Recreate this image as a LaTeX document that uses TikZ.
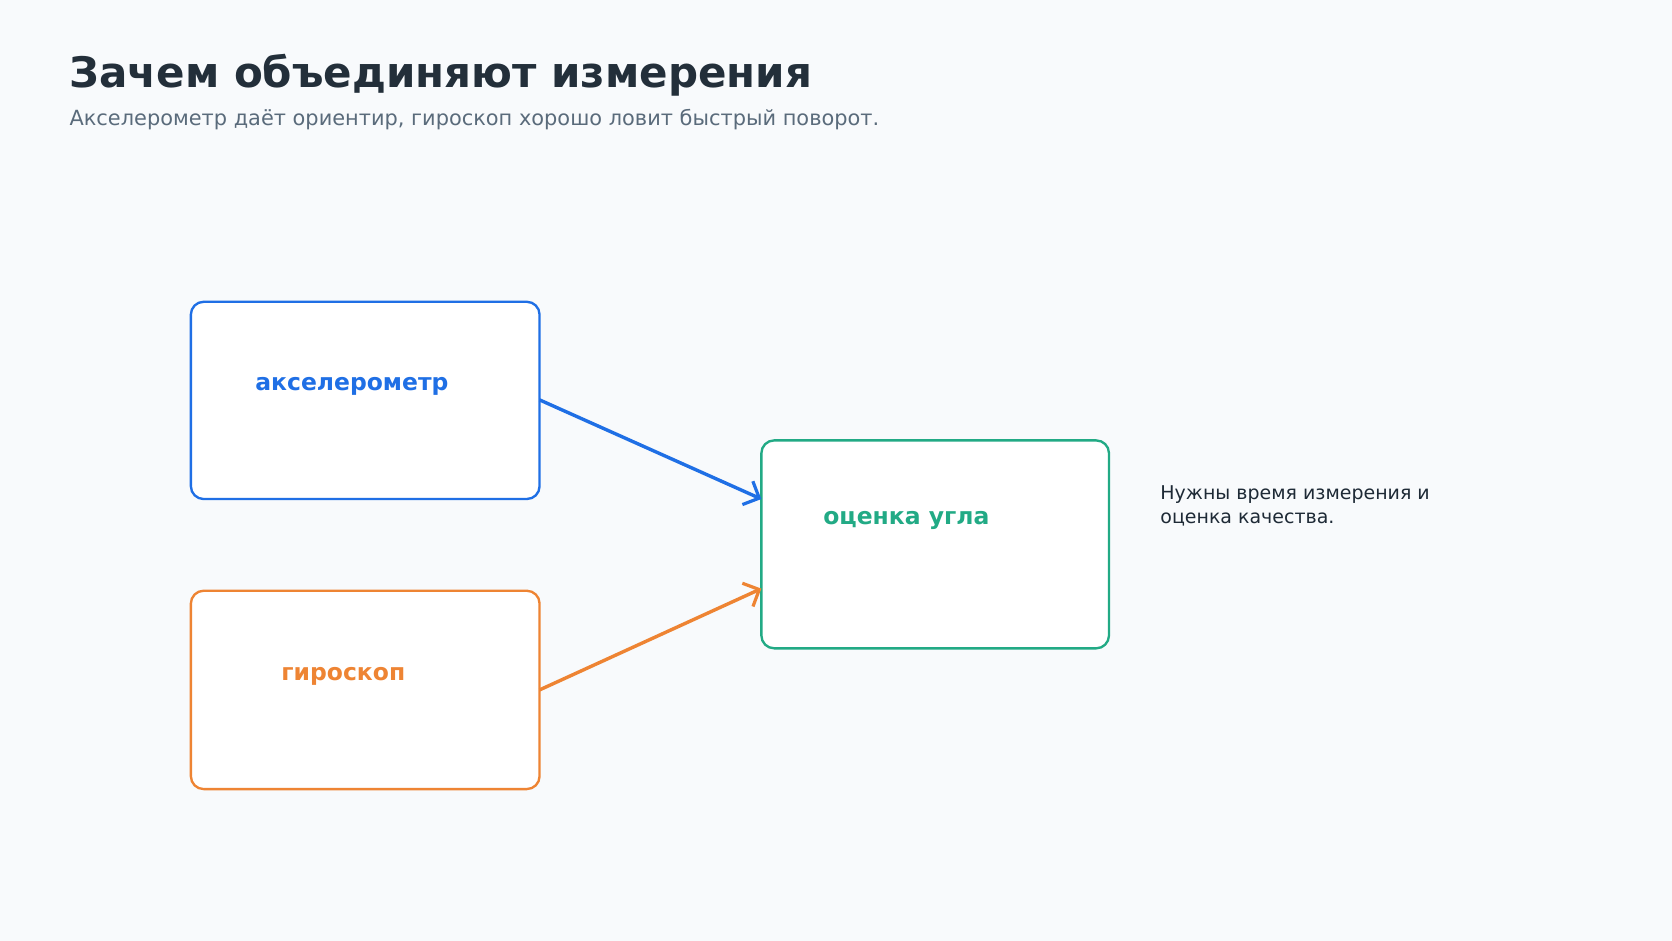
\documentclass[tikz,border=0pt]{standalone}
\usepackage{fontspec}
\setmainfont{DejaVu Sans}
\usetikzlibrary{arrows.meta}
\definecolor{bg}{HTML}{F8FAFC}
\definecolor{cblue}{HTML}{1F6FE5}
\definecolor{corange}{HTML}{EE8433}
\definecolor{cgreen}{HTML}{22AA85}
\definecolor{ctitle}{HTML}{232F3A}
\definecolor{csub}{HTML}{5A6B7B}
\definecolor{cnote}{HTML}{1E2A36}
\begin{document}
\begin{tikzpicture}[x=1pt,y=-1pt,
  box/.style={line width=2.2pt,fill=white,rounded corners=12pt},
  lbl/.style={font=\bfseries\fontsize{22}{26}\selectfont,anchor=center},
  arr/.style={line width=3.2pt,-{Straight Barb[length=12pt,width=24pt,line width=3pt]}}]
\fill[bg] (0,0) rectangle (1568,882);
\useasboundingbox (0,0) rectangle (1568,882);
\node[anchor=base west,text=ctitle,font=\bfseries\fontsize{39.4}{44}\selectfont,inner sep=0] (title) at (65,82) {Зачем объединяют измерения};
\node[anchor=base west,text=csub,font=\fontsize{19.6}{22}\selectfont,inner sep=0] (sub) at (65,118) {Акселерометр даёт ориентир, гироскоп хорошо ловит быстрый поворот.};
\draw[box,draw=cblue] (179,283) rectangle (506,468);
\draw[box,draw=corange] (179,554) rectangle (506,740);
\draw[box,draw=cgreen] (714,413) rectangle (1040,608);
\node[lbl,text=cblue] (acc) at (330,362) {акселерометр};
\node[lbl,text=corange] (gyr) at (322,634) {гироскоп};
\node[lbl,text=cgreen] (ang) at (850,488) {оценка угла};
\coordinate (a1) at (506,375); \coordinate (a2) at (714,468);
\coordinate (g1) at (506,647); \coordinate (g2) at (714,552);
\draw[arr,cblue] (a1) -- (a2);
\draw[arr,corange] (g1) -- (g2);
\node[anchor=north west,text=cnote,align=left,font=\fontsize{17.8}{23}\selectfont,inner sep=0] (note) at (1088,455) {Нужны время измерения и\\оценка качества.};
\end{tikzpicture}
\end{document}
